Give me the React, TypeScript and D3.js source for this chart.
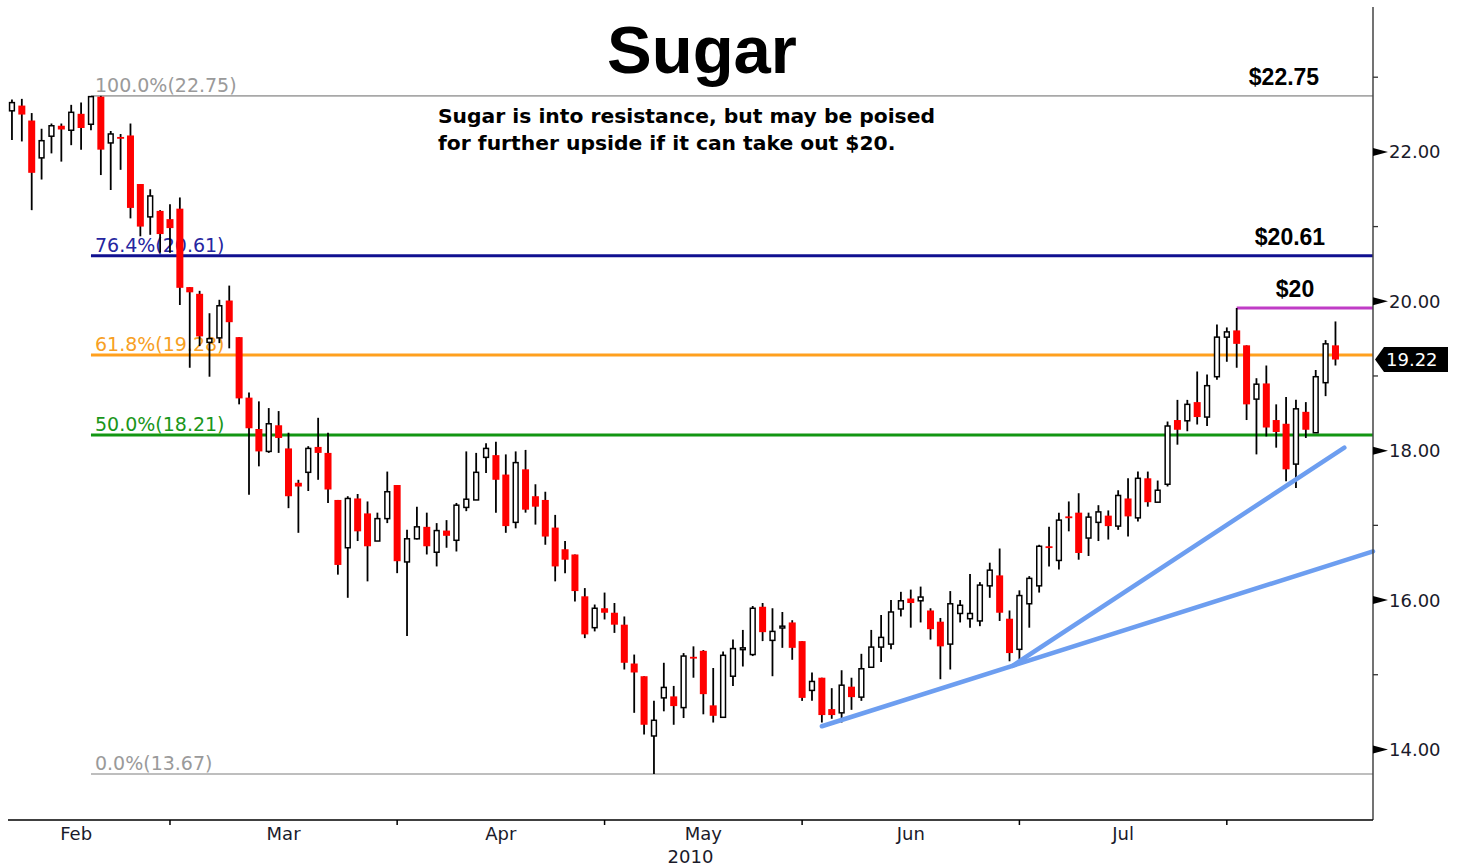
import React from 'react';
import * as d3 from 'd3';

// daily sugar futures, Feb 4 – Aug 17 2010 (ICE trading days)
const startDate = '2010-02-04';
const holidays = ['2010-02-15', '2010-04-02', '2010-05-31', '2010-07-05'];

const opens = [
	22.55, 22.62, 22.42, 21.92, 22.21, 22.35, 22.29, 22.51, 22.37, 22.74,
	22.12, 22.2, 22.22, 21.57, 21.13, 21.21, 21.1, 21.24, 20.19, 20.1,
	19.45, 19.51, 20.01, 19.52, 18.71, 18.29, 17.99, 18.34, 18.03, 17.57,
	17.71, 18.05, 17.97, 17.34, 16.7, 17.36, 17.16, 16.79, 17.09, 17.54,
	16.51, 16.82, 16.98, 16.64, 16.93, 16.8, 17.24, 17.34, 17.91, 17.94,
	17.68, 17.04, 17.75, 17.39, 17.34, 16.97, 16.68, 16.61, 16.05, 15.63,
	15.89, 15.83, 15.67, 15.15, 14.98, 14.18, 14.69, 14.71, 14.56, 15.24,
	15.32, 14.59, 14.43, 14.98, 15.34, 15.27, 15.91, 15.46, 15.63, 15.7,
	15.45, 14.79, 14.96, 14.54, 14.49, 14.84, 14.7, 15.1, 15.37, 15.41,
	15.88, 16.02, 15.99, 15.86, 15.71, 15.41, 15.82, 15.75, 15.72, 16.19,
	16.33, 15.75, 15.34, 15.95, 16.19, 16.72, 16.53, 17.12, 17.17, 16.83,
	17.04, 17.13, 16.99, 17.36, 17.1, 17.63, 17.31, 17.55, 18.41, 18.4,
	18.65, 18.45, 18.99, 19.52, 19.61, 19.41, 18.69, 18.9, 18.41, 18.36,
	17.82, 18.52, 18.24, 18.91, 19.41,
];
const highs = [
	22.7, 22.71, 22.52, 22.31, 22.38, 22.38, 22.63, 22.66, 22.75, 22.75,
	22.28, 22.24, 22.38, 21.57, 21.5, 21.22, 21.3, 21.39, 20.19, 20.14,
	19.84, 20.02, 20.21, 19.52, 18.78, 18.66, 18.57, 18.53, 18.24, 17.61,
	18.06, 18.44, 18.24, 17.34, 17.39, 17.42, 17.32, 17.17, 17.72, 17.54,
	16.94, 17.25, 17.17, 17.03, 17.07, 17.3, 17.99, 17.97, 18.1, 18.12,
	17.95, 17.99, 18.01, 17.55, 17.45, 17.14, 16.79, 16.61, 16.16, 15.94,
	16.1, 15.96, 15.78, 15.27, 14.98, 14.65, 15.16, 14.85, 15.29, 15.38,
	15.33, 15.09, 15.31, 15.47, 15.6, 15.92, 15.96, 15.89, 15.84, 15.73,
	15.45, 15.03, 14.96, 14.82, 15.06, 14.96, 15.28, 15.6, 15.8, 16.0,
	16.11, 16.14, 16.18, 15.89, 15.76, 16.12, 16.0, 16.35, 16.24, 16.5,
	16.69, 15.86, 16.13, 16.32, 16.74, 16.98, 17.17, 17.32, 17.43, 17.17,
	17.27, 17.2, 17.47, 17.63, 17.72, 17.72, 17.6, 18.39, 18.68, 18.68,
	19.06, 19.02, 19.69, 19.65, 19.91, 19.41, 18.97, 19.14, 18.62, 18.72,
	18.68, 18.65, 19.08, 19.48, 19.73,
];
const lows = [
	22.16, 22.14, 21.22, 21.63, 21.98, 21.87, 22.09, 22.03, 22.29, 21.69,
	21.49, 21.76, 21.11, 20.87, 20.89, 20.65, 20.65, 19.95, 19.11, 19.4,
	18.99, 19.44, 19.37, 18.62, 17.41, 17.79, 17.97, 17.97, 17.23, 16.9,
	17.46, 17.61, 17.3, 16.34, 16.03, 16.79, 16.25, 16.79, 17.03, 16.36,
	15.52, 16.81, 16.61, 16.45, 16.7, 16.65, 17.19, 17.34, 17.7, 17.17,
	16.9, 16.96, 17.17, 17.01, 16.74, 16.25, 16.36, 15.98, 15.49, 15.58,
	15.74, 15.56, 15.07, 14.49, 14.2, 13.67, 14.51, 14.33, 14.42, 14.96,
	14.47, 14.36, 14.43, 14.85, 15.11, 15.25, 15.45, 14.98, 15.36, 15.2,
	14.65, 14.65, 14.36, 14.41, 14.36, 14.53, 14.65, 15.09, 15.17, 15.34,
	15.78, 15.63, 15.7, 15.47, 14.94, 15.07, 15.7, 15.63, 15.65, 16.03,
	15.72, 15.18, 15.21, 15.63, 16.1, 16.45, 16.41, 16.92, 16.54, 16.59,
	16.79, 16.81, 16.94, 16.85, 17.05, 17.25, 17.31, 17.52, 18.08, 18.26,
	18.35, 18.33, 18.95, 19.19, 19.11, 18.41, 17.95, 18.19, 18.04, 17.59,
	17.5, 18.17, 18.24, 18.73, 19.14,
];
const closes = [
	22.66, 22.5, 21.72, 22.15, 22.35, 22.3, 22.53, 22.32, 22.74, 22.03,
	22.24, 22.18, 21.25, 21.0, 21.41, 20.9, 20.98, 20.18, 20.12, 19.53,
	19.5, 19.94, 19.72, 18.7, 18.3, 17.99, 18.36, 18.17, 17.39, 17.52,
	18.03, 17.97, 17.48, 16.47, 17.36, 16.92, 16.72, 17.09, 17.45, 16.52,
	16.82, 16.98, 16.72, 16.93, 16.86, 17.27, 17.35, 17.71, 18.03, 17.61,
	16.99, 17.84, 17.21, 17.25, 16.85, 16.45, 16.54, 16.12, 15.54, 15.89,
	15.83, 15.67, 15.16, 15.03, 14.33, 14.39, 14.83, 14.58, 15.25, 15.22,
	14.74, 14.45, 15.26, 15.35, 15.36, 15.89, 15.57, 15.58, 15.65, 15.36,
	14.69, 14.91, 14.46, 14.46, 14.86, 14.7, 15.08, 15.37, 15.5, 15.84,
	15.99, 15.96, 16.04, 15.61, 15.38, 15.95, 15.93, 15.82, 16.2, 16.4,
	15.83, 15.29, 16.06, 16.29, 16.72, 16.7, 17.07, 17.1, 16.63, 17.11,
	17.18, 16.99, 17.4, 17.12, 17.63, 17.31, 17.47, 18.33, 18.28, 18.62,
	18.45, 18.87, 19.52, 19.59, 19.43, 18.62, 18.89, 18.31, 18.25, 17.75,
	18.56, 18.28, 18.99, 19.43, 19.22,
];

// fibonacci retracement from the Feb high to the Apr low
const fibLabels = ['100.0%', '76.4%', '61.8%', '50.0%', '0.0%'];
const fibValues = [22.75, 20.61, 19.28, 18.21, 13.67];
const fibStartIdx = 8;

const resistanceLabel = '$20';
const resistanceValue = 19.91;
const resistanceStartIdx = 124;

// trendlines: [candle index, price]
const trendLow = [[82, 14.31], [101.3, 15.12]]; // extended to the right edge
const trendSteep = [[101.3, 15.12], [134.9, 18.04]];

const priceLabels = ['$22.75', '$20.61', resistanceLabel];
const priceLabelValues = [22.75, 20.61, resistanceValue];

const yTicks = d3.range(14, 24);
const lastPrice = 19.22;

const title = 'Sugar';
const note = [
	'Sugar is into resistance, but may be poised',
	'for further upside if it can take out $20.',
];

const W = 1463;
const H = 867;
const plot = { left: 8, right: 1373, top: 7, bottom: 820 };
const fibColors = ['#a8a8a8', '#101090', '#ffa01e', '#139613', '#a8a8a8'];
const fibTextColors = ['#9a9a9a', '#2626a0', '#f7a024', '#1a961a', '#9a9a9a'];
const axisFont = 'DejaVu Sans, Verdana, sans-serif';

const fmt = d3.timeFormat('%Y-%m-%d');
const allDays = d3.timeDay
	.range(new Date(2010, 1, 1), new Date(2010, 8, 1))
	.filter((d) => d.getDay() !== 0 && d.getDay() !== 6 && !holidays.includes(fmt(d)));
const offset = allDays.findIndex((d) => fmt(d) === startDate);
const months = d3.timeMonth.range(new Date(2010, 1, 1), new Date(2010, 8, 1));
const monthStart = months.map((m) => allDays.findIndex((d) => d >= m) - offset);

export default function App() {
	const x = d3.scaleLinear().domain([-0.4, 137.8]).range([plot.left, plot.right]);
	const y = d3.scaleLinear().domain([13.055, 23.94]).range([plot.bottom, plot.top]);

	const candles = opens.map((o, i) => ({
		o,
		h: highs[i],
		l: lows[i],
		c: closes[i],
		i,
	}));

	const lowSlope = (trendLow[1][1] - trendLow[0][1]) / (trendLow[1][0] - trendLow[0][0]);
	const xEnd = x.domain()[1];
	const lowLine = d3.line()([
		[x(trendLow[0][0]), y(trendLow[0][1])],
		[x(xEnd), y(trendLow[0][1] + lowSlope * (xEnd - trendLow[0][0]))],
	]);
	const steepLine = d3.line()(trendSteep.map(([i, p]) => [x(i), y(p)]));

	const labelX = [1284, 1290, 1295];
	const ly = y(lastPrice);

	return (
		<svg
			width={W}
			height={H}
			style={{ position: 'absolute', left: 0, top: 0, background: '#fff' }}>
			{/* title + note */}
			<text
				x={702}
				y={73}
				textAnchor='middle'
				fontFamily='Liberation Sans, Arial, sans-serif'
				fontWeight='bold'
				fontSize={67}>
				{title}
			</text>

			{/* fib levels */}
			{fibValues.map((v, k) => (
				<g key={'fib' + k}>
					<line
						x1={x(fibStartIdx)}
						x2={plot.right}
						y1={y(v)}
						y2={y(v)}
						stroke={fibColors[k]}
						strokeWidth={k === 0 || k === 4 ? 1.6 : 3}
					/>
					<text
						x={x(fibStartIdx) + 4}
						y={y(v) - 4}
						fontFamily={axisFont}
						fontSize={19}
						fill={fibTextColors[k]}>
						{`${fibLabels[k]}(${v.toFixed(2)})`}
					</text>
				</g>
			))}

			<line
				x1={x(resistanceStartIdx)}
				x2={plot.right}
				y1={y(resistanceValue)}
				y2={y(resistanceValue)}
				stroke='#c03cc6'
				strokeWidth={3}
			/>

			{note.map((t, k) => (
				<text
					key={'note' + k}
					x={438}
					y={123 + k * 27}
					fontFamily={axisFont}
					fontWeight='bold'
					fontSize={20.3}>
					{t}
				</text>
			))}

			{priceLabels.map((t, k) => (
				<text
					key={'pl' + k}
					x={labelX[k]}
					y={y(priceLabelValues[k]) - 11}
					textAnchor='middle'
					fontFamily='Liberation Sans, Arial, sans-serif'
					fontWeight='bold'
					fontSize={23}>
					{t}
				</text>
			))}

			{/* candles */}
			{candles.map((d) => {
				const cx = x(d.i);
				const up = d.c >= d.o;
				const top = y(Math.max(d.o, d.c));
				const h = Math.max(1.8, y(Math.min(d.o, d.c)) - top);
				return (
					<g key={'c' + d.i}>
						<line x1={cx} x2={cx} y1={y(d.h)} y2={y(d.l)} stroke='#000' strokeWidth={1.8} />
						{up ? (
							<rect
								x={cx - 2.4}
								y={top}
								width={4.8}
								height={h}
								fill='#fff'
								stroke='#000'
								strokeWidth={1.5}
							/>
						) : (
							<rect x={cx - 3.5} y={top} width={7} height={h} fill='#ff0000' />
						)}
					</g>
				);
			})}

			{/* trendlines */}
			<path d={lowLine} stroke='#6d9ef0' strokeWidth={4.5} fill='none' strokeLinecap='round' />
			<path d={steepLine} stroke='#6d9ef0' strokeWidth={4.5} fill='none' strokeLinecap='round' />

			{/* right axis */}
			<line x1={plot.right} x2={plot.right} y1={plot.top} y2={plot.bottom} stroke='#444' strokeWidth={1.5} />
			{yTicks.map((v) =>
				v % 2 === 0 ? (
					<g key={'yt' + v}>
						<path
							d={`M${plot.right},${y(v) - 4}L${plot.right + 15},${y(v)}L${plot.right},${y(v) + 4}Z`}
							fill='#000'
						/>
						<text
							x={plot.right + 16}
							y={y(v)}
							dy='0.36em'
							fontFamily={axisFont}
							fontSize={18}
							fill='#1a1a2a'>
							{v.toFixed(2)}
						</text>
					</g>
				) : (
					<line
						key={'yt' + v}
						x1={plot.right}
						x2={plot.right + 5}
						y1={y(v)}
						y2={y(v)}
						stroke='#333'
						strokeWidth={1.3}
					/>
				)
			)}

			{/* last price */}
			<path
				d={`M${plot.right + 2},${ly}L${plot.right + 11},${ly - 12.5}L${W - 15},${ly - 12.5}L${W - 15},${ly + 12.5}L${plot.right + 11},${ly + 12.5}Z`}
				fill='#000'
			/>
			<text x={plot.right + 13} y={ly} dy='0.36em' fontFamily={axisFont} fontSize={18} fill='#fff'>
				{lastPrice.toFixed(2)}
			</text>

			{/* bottom axis */}
			<line x1={plot.left} x2={plot.right} y1={plot.bottom} y2={plot.bottom} stroke='#000' strokeWidth={1.5} />
			{monthStart.slice(1).map((m, k) => (
				<line key={'mt' + k} x1={x(m)} x2={x(m)} y1={plot.bottom} y2={plot.bottom + 5} stroke='#000' strokeWidth={1.5} />
			))}
			{months.slice(0, -1).map((m, k) => (
				<text
					key={'ml' + k}
					x={x((monthStart[k] + monthStart[k + 1]) / 2)}
					y={840}
					textAnchor='middle'
					fontFamily={axisFont}
					fontSize={18}
					fill='#1a1a2a'>
					{d3.timeFormat('%b')(m)}
				</text>
			))}
			<text
				x={(plot.left + plot.right) / 2}
				y={863}
				textAnchor='middle'
				fontFamily={axisFont}
				fontSize={18}
				fill='#1a1a2a'>
				2010
			</text>
		</svg>
	);
}
